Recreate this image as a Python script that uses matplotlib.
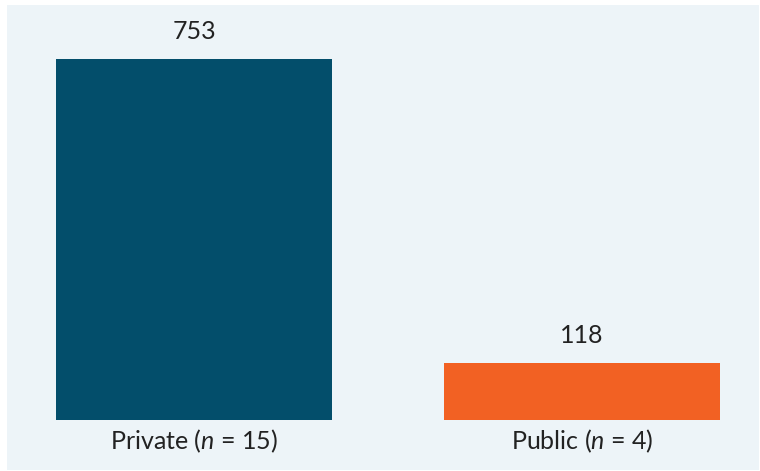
import matplotlib
matplotlib.use('Agg')
import matplotlib.pyplot as plt

plt.rcParams['font.family'] = ['Lato', 'DejaVu Sans']
plt.rcParams['mathtext.fontset'] = 'custom'
plt.rcParams['mathtext.rm'] = 'Lato'
plt.rcParams['mathtext.it'] = 'Lato:italic'

sectors = ['Private', 'Public']
counts = [15, 4]
values = [753, 118]
colors = ['#034e6b', '#f26123']

fig = plt.figure(figsize=(7.6, 4.71), dpi=100, facecolor='white')
ax = fig.add_axes([7 / 760, 1 / 471, 752 / 760, 465 / 471])
ax.set_facecolor('#edf4f8')

xs = list(range(len(sectors)))
ax.bar(xs, values, width=0.711, color=colors, zorder=2)

for x, v, name, n in zip(xs, values, sectors, counts):
    ax.annotate(f'{v}', (x, v), xytext=(0, 20), textcoords='offset pixels',
                ha='center', va='baseline', fontsize=18, color='#222222')
    ax.annotate(f'{name} ($n$ = {n})', (x, 0), xytext=(0, -21), textcoords='offset pixels',
                ha='center', va='center', fontsize=18, color='#222222')

ax.set_xlim(-0.482, 1.456)
ax.set_ylim(-104.3, 865.7)
ax.set_xticks([])
ax.set_yticks([])
for s in ax.spines.values():
    s.set_visible(False)

fig.savefig('out.png', dpi=100, facecolor='white')
